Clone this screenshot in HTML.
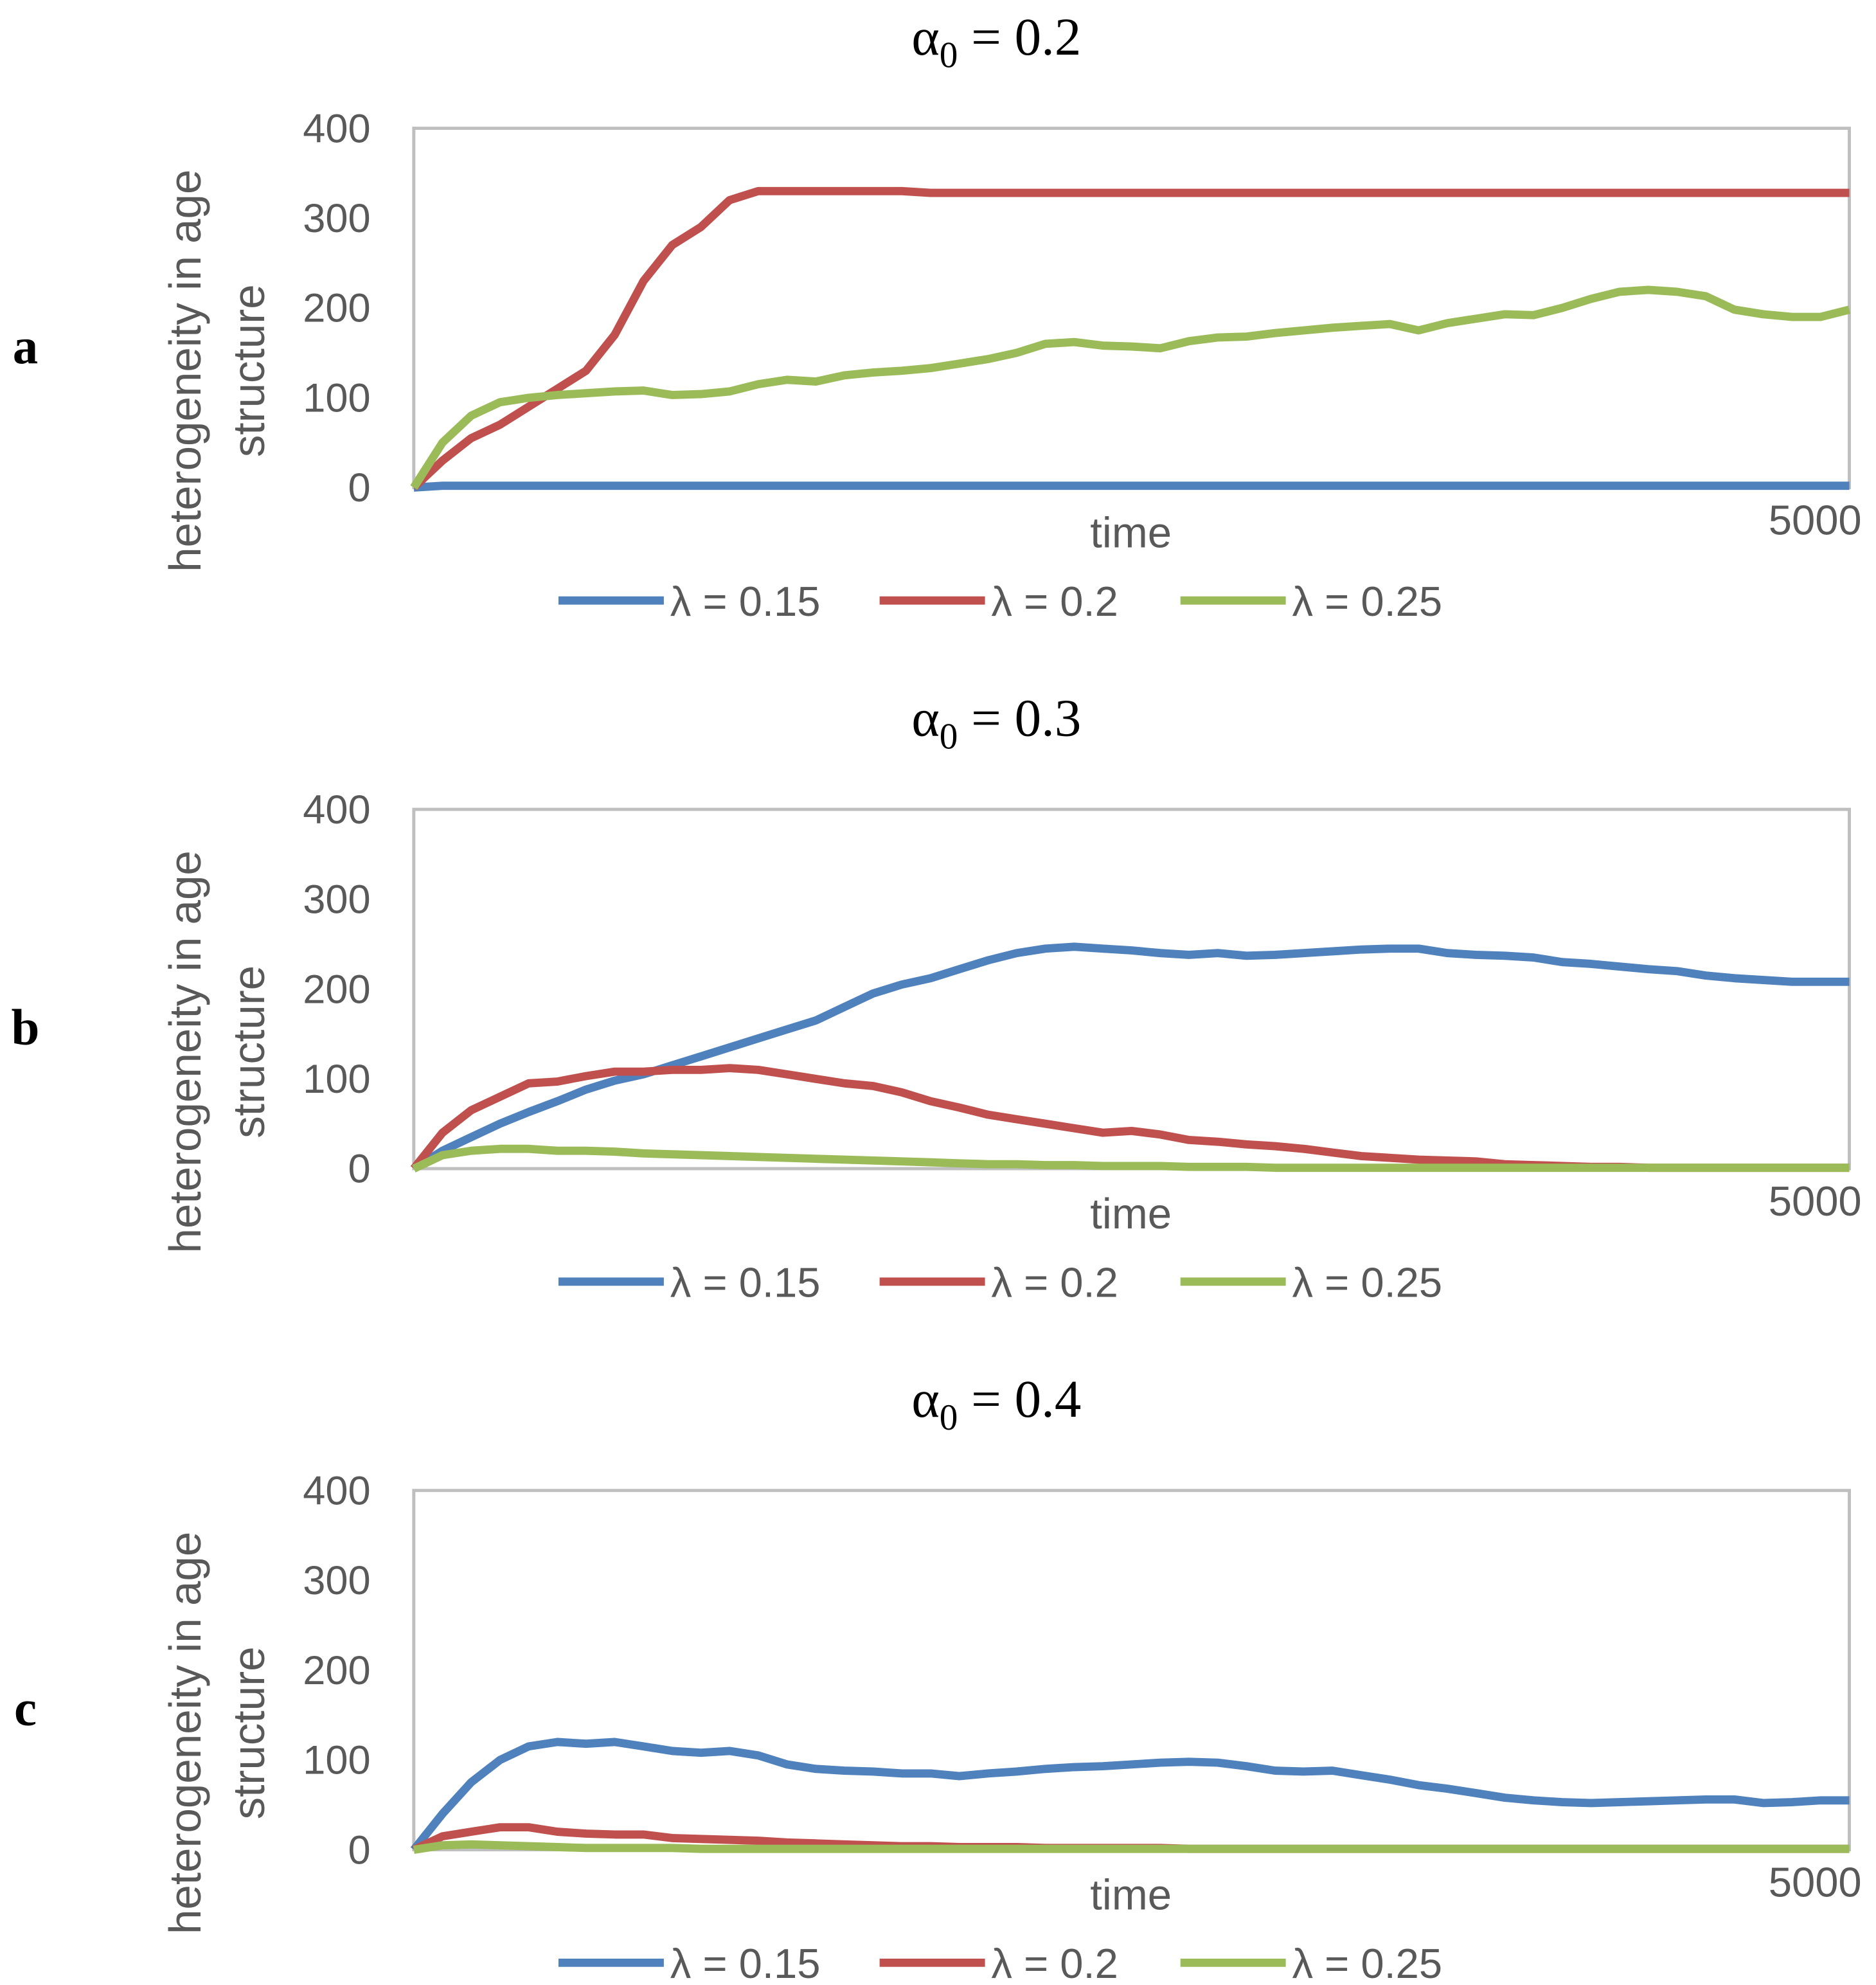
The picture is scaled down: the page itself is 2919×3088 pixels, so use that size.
<!DOCTYPE html>
<html><head><meta charset="utf-8"><style>
html,body{margin:0;padding:0;background:#fff;}
svg{display:block;}
</style></head><body>
<svg id="fig" width="2919" height="3088" viewBox="0 0 1478 1563.5" xmlns="http://www.w3.org/2000/svg"></svg>
<script>
const timeSteps = [0,100,200,300,400,500,600,700,800,900,1000,1100,1200,1300,1400,1500,1600,1700,1800,1900,2000,2100,2200,2300,2400,2500,2600,2700,2800,2900,3000,3100,3200,3300,3400,3500,3600,3700,3800,3900,4000,4100,4200,4300,4400,4500,4600,4700,4800,4900,5000];
const yTicks = [0,100,200,300,400];
const seriesLabels = ["λ = 0.15","λ = 0.2","λ = 0.25"];
const panelTitles = ["0.2","0.3","0.4"];
const panelLetters = ["a","b","c"];
const aBlue = [0,2,2,2,2,2,2,2,2,2,2,2,2,2,2,2,2,2,2,2,2,2,2,2,2,2,2,2,2,2,2,2,2,2,2,2,2,2,2,2,2,2,2,2,2,2,2,2,2,2,2];
const aRed = [0,30,55,70,90,110,130,170,230,270,290,320,330,330,330,330,330,330,328,328,328,328,328,328,328,328,328,328,328,328,328,328,328,328,328,328,328,328,328,328,328,328,328,328,328,328,328,328,328,328,328];
const aGreen = [0,50,80,95,100,103,105,107,108,103,104,107,115,120,118,125,128,130,133,138,143,150,160,162,158,157,155,163,167,168,172,175,178,180,182,175,183,188,193,192,200,210,218,220,218,213,198,193,190,190,198];
const bBlue = [0,20,35,50,63,75,88,98,105,115,125,135,145,155,165,180,195,205,212,222,232,240,245,247,245,243,240,238,240,237,238,240,242,244,245,245,240,238,237,235,230,228,225,222,220,215,212,210,208,208,208];
const bRed = [0,40,65,80,95,97,103,108,108,110,110,112,110,105,100,95,92,85,75,68,60,55,50,45,40,42,38,32,30,27,25,22,18,14,12,10,9,8,5,4,3,2,2,1,1,1,1,1,1,1,1];
const bGreen = [0,15,20,22,22,20,20,19,17,16,15,14,13,12,11,10,9,8,7,6,5,5,4,4,3,3,3,2,2,2,1,1,1,1,1,1,1,1,1,1,1,1,1,1,1,1,1,1,1,1,1];
const cBlue = [0,40,75,100,115,120,118,120,115,110,108,110,105,95,90,88,87,85,85,82,85,87,90,92,93,95,97,98,97,93,88,87,88,83,78,72,68,63,58,55,53,52,53,54,55,56,56,52,53,55,55];
const cRed = [0,15,20,25,25,20,18,17,17,13,12,11,10,8,7,6,5,4,4,3,3,3,2,2,2,2,2,1,1,1,1,1,1,1,1,1,1,1,1,1,1,1,1,1,1,1,1,1,1,1,1];
const cGreen = [0,5,6,5,4,3,2,2,2,2,1,1,1,1,1,1,1,1,1,1,1,1,1,1,1,1,1,1,1,1,1,1,1,1,1,1,1,1,1,1,1,1,1,1,1,1,1,1,1,1,1];
const panels = [[aBlue,aRed,aGreen],[bBlue,bRed,bGreen],[cBlue,cRed,cGreen]];
const colors = ["#4F81BD","#C0504D","#9BBB59"];
const NS = "http://www.w3.org/2000/svg";
const svg = document.getElementById("fig");
function mk(tag, attrs, parent){const e=document.createElementNS(NS,tag);for(const k in attrs)e.setAttribute(k,attrs[k]);(parent||svg).appendChild(e);return e;}
const X0=326, X1=1457, PH=283, TMAX=5000, YMAX=400;
panels.forEach((series,p)=>{
  const top = 101 + p*536.5, bot = top+PH;
  const g = mk("g",{});
  
  
  const xs = t => X0 + t/TMAX*(X1-X0);
  const ys = v => bot - v/YMAX*PH;
  const title = mk("text",{x:785,y:top-58,"text-anchor":"middle","font-family":"Liberation Serif, serif","font-size":42},g);
  
  
  title.innerHTML = 'α<tspan font-size="29" dy="10">0</tspan><tspan dy="-10"> = '+panelTitles[p]+'</tspan>';
  const letter = mk("text",{x:20,y:top+185,"text-anchor":"middle","font-family":"Liberation Serif, serif","font-weight":"bold","font-size":40},g);
  
  
  letter.textContent = panelLetters[p];
  const frame = mk("rect",{x:X0,y:top,width:X1-X0,height:PH,fill:"none",stroke:"#bfbfbf","stroke-width":2.5},g);
  
  
  yTicks.forEach(v=>{
    const t = mk("text",{x:292,y:ys(v)+11,"text-anchor":"end","font-family":"Liberation Sans, sans-serif","font-size":32,fill:"#595959"},g);
    
    
    t.textContent = v;
  });
  const yt = mk("text",{transform:"translate(158,"+(top+191)+") rotate(-90)","text-anchor":"middle","font-family":"Liberation Sans, sans-serif","font-size":35,fill:"#595959"},g);
  
  
  yt.innerHTML = '<tspan x="0" dy="0">heterogeneity in age</tspan><tspan x="0" dy="50">structure</tspan>';
  const xt = mk("text",{x:891,y:bot+47,"text-anchor":"middle","font-family":"Liberation Sans, sans-serif","font-size":34,fill:"#595959"},g);
  
  
  xt.textContent = "time";
  const xe = mk("text",{x:1430,y:bot+37,"text-anchor":"middle","font-family":"Liberation Sans, sans-serif","font-size":33,fill:"#595959"},g);
  
  
  xe.textContent = "5000";
  series.forEach((vals,s)=>{
    const d = vals.map((v,i)=>(i?"L":"M")+xs(timeSteps[i]).toFixed(1)+","+ys(v).toFixed(1)).join(" ");
    const path = mk("path",{d:d,fill:"none",stroke:colors[s],"stroke-width":6.5,"stroke-linejoin":"round"},g);
    
    
  });
  const lx = [440,693,930];
  seriesLabels.forEach((lab,s)=>{
    const ly = bot+89;
    const ln = mk("line",{x1:lx[s],x2:lx[s]+83,y1:ly,y2:ly,stroke:colors[s],"stroke-width":6.5},g);
    
    
    const lt = mk("text",{x:lx[s]+88,y:ly+12,"font-family":"Liberation Sans, sans-serif","font-size":33,fill:"#595959"},g);
    
    
    lt.textContent = lab;
  });
});
</script>
</body></html>
